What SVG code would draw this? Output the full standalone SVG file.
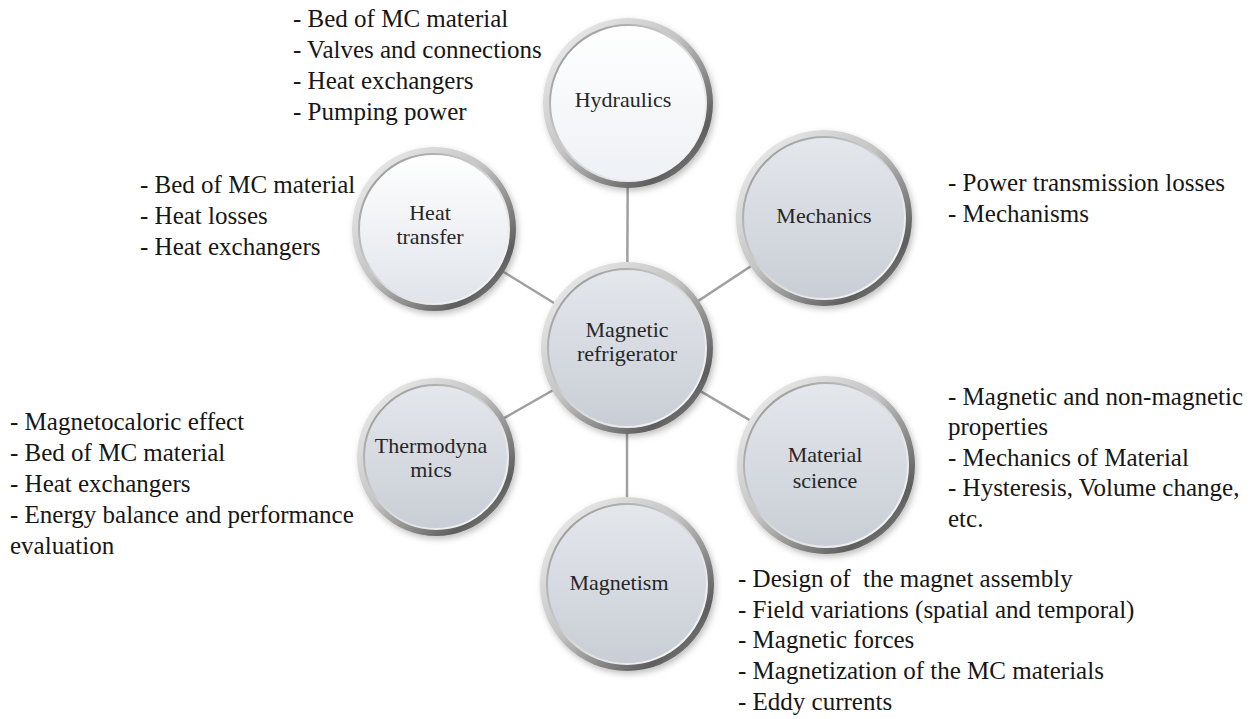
<svg xmlns="http://www.w3.org/2000/svg" width="1257" height="719" viewBox="0 0 1257 719">
<defs>
<linearGradient id="ring" x1="0" y1="0" x2="1" y2="1">
<stop offset="0" stop-color="#f4f4f4"/>
<stop offset="0.45" stop-color="#c4c4c4"/>
<stop offset="0.8" stop-color="#5e5e5e"/>
<stop offset="1" stop-color="#9a9a9a"/>
</linearGradient>
<linearGradient id="bevel" x1="0" y1="0" x2="1" y2="1">
<stop offset="0" stop-color="#8a8a8a"/>
<stop offset="0.5" stop-color="#d8d8d8"/>
<stop offset="1" stop-color="#ffffff"/>
</linearGradient>
<linearGradient id="face" x1="0" y1="0" x2="0" y2="1">
<stop offset="0" stop-color="#e4e7ec"/>
<stop offset="1" stop-color="#c9ced6"/>
</linearGradient>
<linearGradient id="faceW" x1="0" y1="0" x2="0" y2="1">
<stop offset="0" stop-color="#ffffff"/>
<stop offset="1" stop-color="#eef1f5"/>
</linearGradient>
<linearGradient id="faceL" x1="0" y1="0" x2="0" y2="1">
<stop offset="0" stop-color="#ffffff"/>
<stop offset="1" stop-color="#e0e4ea"/>
</linearGradient>
<filter id="sh" x="-20%" y="-20%" width="140%" height="140%">
<feDropShadow dx="2" dy="3" stdDeviation="3" flood-color="#000" flood-opacity="0.25"/>
</filter>
</defs>
<style>
.ring{fill:url(#ring);filter:url(#sh)}
.bev{fill:none;stroke:url(#bevel);stroke-width:2}
.lbl{font-size:22px;fill:#262626;text-anchor:middle}
.lst{font-size:25px;fill:#161616}
.con{stroke:#a0a0a0;stroke-width:2.5;fill:none}
</style>
<rect width="1257" height="719" fill="#ffffff"/>
<g id="connectors">
<line class="con" x1="627" y1="348" x2="628" y2="103"/>
<line class="con" x1="627" y1="348" x2="434" y2="229"/>
<line class="con" x1="627" y1="348" x2="824" y2="218"/>
<line class="con" x1="627" y1="348" x2="436" y2="457"/>
<line class="con" x1="627" y1="348" x2="826" y2="465"/>
<line class="con" x1="627" y1="348" x2="627" y2="584"/>
</g>
<g font-family="Liberation Serif, DejaVu Serif, serif">
<g id="center">
<circle class="ring" cx="627" cy="348" r="86"/>
<circle cx="627" cy="348" r="79" fill="url(#face)"/>
<circle class="bev" cx="627" cy="348" r="79"/>
<text class="lbl" x="627" y="337">Magnetic</text>
<text class="lbl" x="627" y="361">refrigerator</text>
</g>
<g id="hydraulics">
<circle class="ring" cx="628" cy="103" r="85"/>
<circle cx="628" cy="103" r="78" fill="url(#faceW)"/>
<circle class="bev" cx="628" cy="103" r="78"/>
<text class="lbl" x="623" y="107">Hydraulics</text>
</g>
<g id="heat-transfer">
<circle class="ring" cx="434" cy="229" r="82"/>
<circle cx="434" cy="229" r="75" fill="url(#faceL)"/>
<circle class="bev" cx="434" cy="229" r="75"/>
<text class="lbl" x="430" y="220">Heat</text>
<text class="lbl" x="430" y="244">transfer</text>
</g>
<g id="mechanics">
<circle class="ring" cx="824" cy="218" r="88"/>
<circle cx="824" cy="218" r="81" fill="url(#face)"/>
<circle class="bev" cx="824" cy="218" r="81"/>
<text class="lbl" x="824" y="223">Mechanics</text>
</g>
<g id="thermodynamics">
<circle class="ring" cx="436" cy="457" r="79"/>
<circle cx="436" cy="457" r="72" fill="url(#face)"/>
<circle class="bev" cx="436" cy="457" r="72"/>
<text class="lbl" x="431" y="453">Thermodyna</text>
<text class="lbl" x="431" y="477">mics</text>
</g>
<g id="material-science">
<circle class="ring" cx="826" cy="465" r="89"/>
<circle cx="826" cy="465" r="82" fill="url(#face)"/>
<circle class="bev" cx="826" cy="465" r="82"/>
<text class="lbl" x="825" y="462">Material</text>
<text class="lbl" x="825" y="488">science</text>
</g>
<g id="magnetism">
<circle class="ring" cx="627" cy="584" r="87"/>
<circle cx="627" cy="584" r="80" fill="url(#face)"/>
<circle class="bev" cx="627" cy="584" r="80"/>
<text class="lbl" x="619" y="590">Magnetism</text>
</g>
<g id="hydraulics-list">
<text class="lst" x="293" y="27">- Bed of MC material</text>
<text class="lst" x="293" y="58">- Valves and connections</text>
<text class="lst" x="293" y="89">- Heat exchangers</text>
<text class="lst" x="293" y="120">- Pumping power</text>
</g>
<g id="heat-transfer-list">
<text class="lst" x="140" y="193">- Bed of MC material</text>
<text class="lst" x="140" y="224">- Heat losses</text>
<text class="lst" x="140" y="255">- Heat exchangers</text>
</g>
<g id="mechanics-list">
<text class="lst" x="948" y="191">- Power transmission losses</text>
<text class="lst" x="948" y="222">- Mechanisms</text>
</g>
<g id="thermodynamics-list">
<text class="lst" x="10" y="430">- Magnetocaloric effect</text>
<text class="lst" x="10" y="461">- Bed of MC material</text>
<text class="lst" x="10" y="492">- Heat exchangers</text>
<text class="lst" x="10" y="523">- Energy balance and performance</text>
<text class="lst" x="10" y="554">evaluation</text>
</g>
<g id="material-science-list">
<text class="lst" x="948" y="405">- Magnetic and non-magnetic</text>
<text class="lst" x="948" y="435">properties</text>
<text class="lst" x="948" y="466">- Mechanics of Material</text>
<text class="lst" x="948" y="496">- Hysteresis, Volume change,</text>
<text class="lst" x="948" y="527">etc.</text>
</g>
<g id="magnetism-list">
<text class="lst" x="738" y="587" xml:space="preserve">- Design of  the magnet assembly</text>
<text class="lst" x="738" y="618">- Field variations (spatial and temporal)</text>
<text class="lst" x="738" y="648">- Magnetic forces</text>
<text class="lst" x="738" y="679">- Magnetization of the MC materials</text>
<text class="lst" x="738" y="710">- Eddy currents</text>
</g>
</g>
</svg>
